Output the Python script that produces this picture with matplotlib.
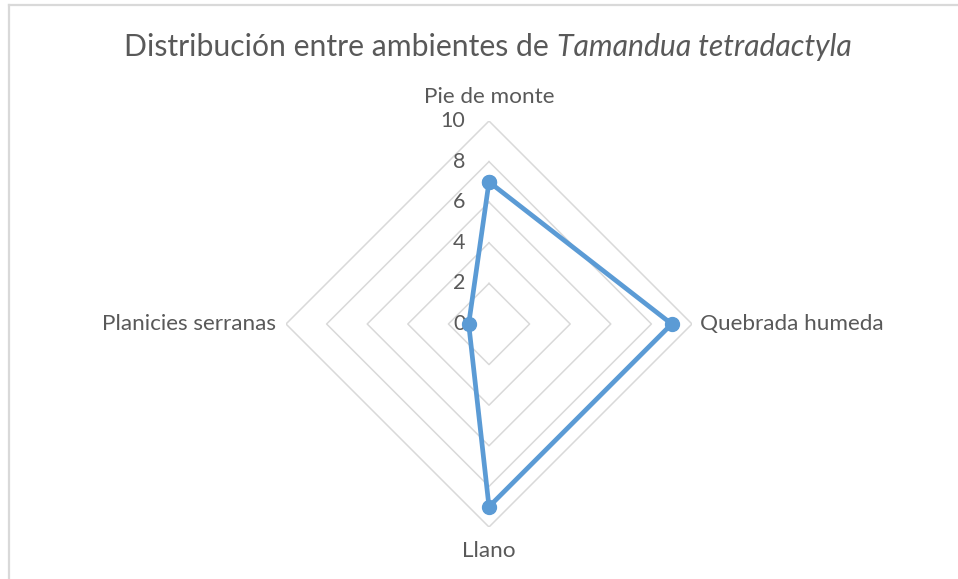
import matplotlib
matplotlib.use("Agg")
import matplotlib.pyplot as plt
import numpy as np
from matplotlib.lines import Line2D
from matplotlib.transforms import offset_copy

plt.rcParams['font.family'] = ['Lato', 'DejaVu Sans']

# data
categories = ["Pie de monte", "Quebrada humeda", "Llano", "Planicies serranas"]
values = [7, 9, 9, 1]
rticks = [0, 2, 4, 6, 8, 10]

text_col = "#595959"
grid_col = "#d9d9d9"
line_col = "#5b9bd5"

W, H = 958, 579
fig = plt.figure(figsize=(W / 100, H / 100), dpi=100)

# chart area border (only left/top visible in crop)
fig.add_artist(Line2D([9 / W, 9 / W], [0, 1 - 5 / H], color=grid_col, lw=1.6))
fig.add_artist(Line2D([9 / W, 1], [1 - 5 / H, 1 - 5 / H], color=grid_col, lw=1.6))

cx, cy, rad = 489, 324, 203
ax = fig.add_axes([(cx - rad) / W, (H - cy - rad) / H, 2 * rad / W, 2 * rad / H],
                  projection='polar')
ax.set_theta_zero_location('N')
ax.set_theta_direction(-1)
ax.set_ylim(0, 10)
ax.grid(False)
ax.spines['polar'].set_visible(False)
ax.set_xticks([])
ax.set_yticks([])

theta = np.arange(len(categories)) * 2 * np.pi / len(categories)
tclosed = np.append(theta, theta[0])

# polygon gridlines
for r in rticks[1:]:
    ax.plot(tclosed, [r] * len(tclosed), color=grid_col, lw=1.1, zorder=1)

# radial labels along top spoke
lbl_tr = offset_copy(ax.transData, fig=fig, x=-17, y=0, units='points')
for r in rticks:
    ax.text(0, r, str(r), transform=lbl_tr, ha='right', va='center',
            fontsize=15.5, color=text_col)

# series
vclosed = np.append(values, values[0])
ax.plot(tclosed, vclosed, color=line_col, lw=3.4, marker='o', markersize=10,
        zorder=3, clip_on=False)

# category labels
offs = [(0, 10), (5.5, 0), (0, -10), (-7, 0)]
aligns = [('center', 'bottom'), ('left', 'center'), ('center', 'top'), ('right', 'center')]
for t, name, (dx, dy), (ha, va) in zip(theta, categories, offs, aligns):
    tr = offset_copy(ax.transData, fig=fig, x=dx, y=dy, units='points')
    ax.text(t, 10, name, transform=tr, ha=ha, va=va, fontsize=16.2, color=text_col)

# title: normal part + italic species name
renderer = fig.canvas.get_renderer()
t1 = fig.text(0, 1 - 47 / H, "Distribución entre ambientes de ", fontsize=21.7,
              color=text_col, va='center', ha='left')
t2 = fig.text(0, 1 - 47 / H, "Tamandua tetradactyla", fontsize=21.7, style='italic',
              color=text_col, va='center', ha='left')
w1 = t1.get_window_extent(renderer).width
w2 = t2.get_window_extent(renderer).width
x0 = 488 - (w1 + w2) / 2
t1.set_x(x0 / W)
t2.set_x((x0 + w1) / W)

fig.savefig("out.png", dpi=100, facecolor='white')
